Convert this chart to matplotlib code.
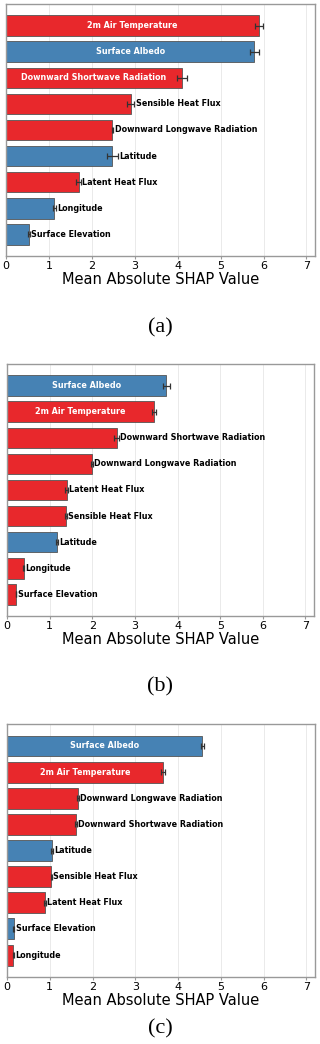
import matplotlib.pyplot as plt

RED = "#e8282c"
BLUE = "#4682b4"

# panel (a)
feat_a = ["2m Air Temperature", "Surface Albedo", "Downward Shortwave Radiation",
          "Sensible Heat Flux", "Downward Longwave Radiation", "Latitude",
          "Latent Heat Flux", "Longitude", "Surface Elevation"]
val_a = [5.90, 5.79, 4.10, 2.91, 2.48, 2.48, 1.69, 1.13, 0.54]
err_a = [0.09, 0.11, 0.11, 0.08, 0.02, 0.12, 0.05, 0.03, 0.02]
col_a = ["r", "b", "r", "r", "r", "b", "r", "b", "b"]

# panel (b)
feat_b = ["Surface Albedo", "2m Air Temperature", "Downward Shortwave Radiation",
          "Downward Longwave Radiation", "Latent Heat Flux", "Sensible Heat Flux",
          "Latitude", "Longitude", "Surface Elevation"]
val_b = [3.74, 3.45, 2.57, 1.99, 1.40, 1.39, 1.17, 0.39, 0.21]
err_b = [0.08, 0.05, 0.05, 0.03, 0.03, 0.02, 0.03, 0.01, 0.01]
col_b = ["b", "r", "r", "r", "r", "r", "b", "r", "r"]

# panel (c)
feat_c = ["Surface Albedo", "2m Air Temperature", "Downward Longwave Radiation",
          "Downward Shortwave Radiation", "Latitude", "Sensible Heat Flux",
          "Latent Heat Flux", "Surface Elevation", "Longitude"]
val_c = [4.57, 3.64, 1.66, 1.62, 1.06, 1.04, 0.88, 0.16, 0.15]
err_c = [0.04, 0.05, 0.02, 0.02, 0.02, 0.01, 0.02, 0.01, 0.01]
col_c = ["b", "r", "r", "r", "b", "r", "r", "b", "r"]

W, H = 320, 1044
fig = plt.figure(figsize=(W / 100, H / 100), dpi=100)


def panel(rect, feats, vals, errs, cols, tag, tag_y):
    l, t, r, b = rect
    ax = fig.add_axes([l / W, 1 - b / H, (r - l) / W, (b - t) / H])
    ys = list(range(len(feats)))
    colors = [RED if c == "r" else BLUE for c in cols]
    ax.barh(ys, vals, height=0.8, color=colors, edgecolor="#555555", linewidth=0.6,
            xerr=errs, error_kw=dict(ecolor="#333333", elinewidth=0.9, capsize=2.5, capthick=0.9))
    for y, f, v, e in zip(ys, feats, vals, errs):
        if v > 3:
            ax.text(v / 2, y, f, color="white", fontsize=5.8, fontweight="bold",
                    ha="center", va="center")
        else:
            ax.text(v + e + 0.03, y, f, color="black", fontsize=5.8, fontweight="bold",
                    ha="left", va="center")
    ax.invert_yaxis()
    ax.set_yticks([])
    ax.set_xlim(0, 7.2)
    ax.set_xticks(range(8))
    ax.tick_params(axis="x", labelsize=8, length=2, color="#999999", pad=1.5)
    ax.grid(axis="x", color="#e6e6e6", linewidth=0.6)
    ax.set_axisbelow(True)
    for s in ax.spines.values():
        s.set_color("#999999")
        s.set_linewidth(1.0)
    ax.set_xlabel("Mean Absolute SHAP Value", fontsize=10.5, labelpad=1)
    fig.text(0.5, 1 - tag_y / H, tag, fontsize=16, family="Liberation Serif",
             ha="center", va="center")


panel((6, 4, 315, 256), feat_a, val_a, err_a, col_a, "(a)", 328)
panel((7, 364, 314, 616), feat_b, val_b, err_b, col_b, "(b)", 687)
panel((7, 724, 315, 977), feat_c, val_c, err_c, col_c, "(c)", 1029)

fig.savefig("out.png", dpi=100)
